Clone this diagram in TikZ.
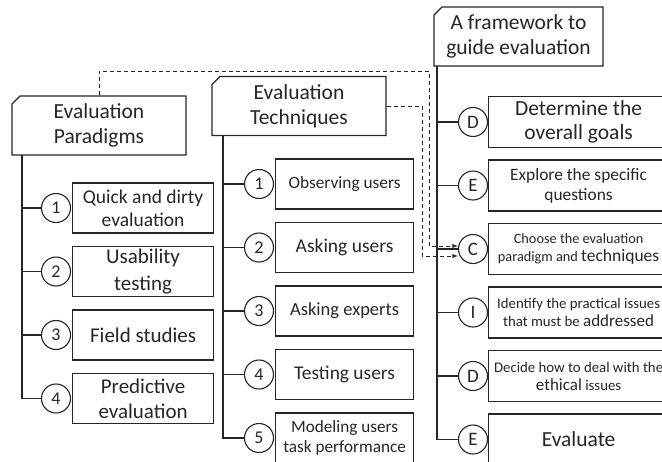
\documentclass[tikz,border=0pt]{standalone}
\usepackage{fontspec}
\setmainfont{Carlito}
\usetikzlibrary{positioning,shapes.misc}

\newcommand{\fs}[2]{\fontsize{#1}{#2}\selectfont}

\begin{document}
\begin{tikzpicture}[x=1pt, y=-1pt, >=latex, node distance=63.5pt, line width=1.1pt, color=black!85,
  head/.style = {draw, chamfered rectangle, chamfered rectangle corners=north west, chamfered rectangle xsep=4pt, chamfered rectangle ysep=4pt, minimum width=174pt, minimum height=59pt, align=center, inner sep=0pt, font=\fs{21.5}{25}},
  num/.style = {draw, circle, fill=white, minimum size=29pt, inner sep=0pt, font=\fs{18}{18}},
  pbox/.style = {draw, rectangle, minimum width=141pt, minimum height=50pt, align=center, inner sep=0pt, font=\fs{21}{25}},
  tbox/.style = {draw, rectangle, minimum width=138pt, minimum height=50pt, align=center, inner sep=0pt, font=\fs{18.5}{20}},
  fbox/.style = {draw, rectangle, minimum width=180pt, minimum height=51pt, align=center, inner sep=0pt, font=\fs{14.8}{18}},
  link/.style = {->, dash pattern=on 4pt off 3pt, line width=0.9pt}]
\useasboundingbox (0,0) rectangle (662,461);
\clip (0,0) rectangle (662,461);

% headers
\node[head] (parhead) at (99,125.5) {Evaluation\\Paradigms};
\node[head] (techhead) at (299,106) {Evaluation\\Techniques};
\node[head, minimum width=169pt] (frmhead) at (518.5,36.5) {A framework to\\guide evaluation};

% evaluation paradigms
\node[num] (p1) at (56,208) {1};
\node[num] (p2) [below of=p1] {2};
\node[num] (p3) [below of=p2] {3};
\node[num] (p4) [below of=p3] {4};
\node[pbox, right=1pt of p1, font=\fs{19.5}{23}] (p1b) {Quick and dirty\\evaluation};
\node[pbox, right=1pt of p2, font=\fs{21}{27}] (p2b) {Usability\\testing};
\node[pbox, right=1pt of p3] (p3b) {Field studies};
\node[pbox, right=1pt of p4] (p4b) {Predictive\\evaluation};

% evaluation techniques
\node[num] (t1) at (259,184) {1};
\node[num] (t2) [below of=t1] {2};
\node[num] (t3) [below of=t2] {3};
\node[num] (t4) [below of=t3] {4};
\node[num] (t5) [below of=t4] {5};
\node[tbox, right=1pt of t1, font=\fs{17.3}{20}] (t1b) {Observing users};
\node[tbox, right=1pt of t2, font=\fs{19.5}{20}] (t2b) {Asking users};
\node[tbox, right=1pt of t3] (t3b) {Asking experts};
\node[tbox, right=1pt of t4, font=\fs{19.4}{20}] (t4b) {Testing users};
\node[tbox, right=1pt of t5, font=\fs{17.2}{20}] (t5b) {Modeling users\\task performance};

% framework steps
\node[num, font=\fs{19}{19}] (f1) at (473,122) {D};
\node[num, font=\fs{19}{19}] (f2) [below of=f1] {E};
\node[num, font=\fs{19}{19}] (f3) [below of=f2] {C};
\node[num, font=\fs{19}{19}] (f4) [below of=f3] {I};
\node[num, font=\fs{19}{19}] (f5) [below of=f4] {D};
\node[num, font=\fs{19}{19}] (f6) [below of=f5] {E};
\node[fbox, right=0pt of f1, font=\fs{21.5}{24}] (f1b) {Determine the\\overall goals};
\node[fbox, right=0pt of f2, font=\fs{17.4}{20}] (f2b) {Explore the specific\\questions};
\node[fbox, right=0pt of f3, font=\fs{14.3}{18}] (f3b) {Choose the evaluation\\paradigm and {\fs{17.5}{17.5}techniques}};
\node[fbox, right=0pt of f4] (f4b) {Identify the practical issues\\that must be {\fs{17}{17}addressed}};
\node[fbox, right=0pt of f5] (f5b) {Decide how to deal with the\\{\fs{17}{17}ethical} issues};
\node[fbox, right=0pt of f6, font=\fs{21.5}{24}] (f6b) {Evaluate};

% trunks
\coordinate (ptop) at (22,155);
\coordinate (ttop) at (223,135.5);
\coordinate (ftop) at (437,66);
\draw (ptop) |- (p4.west);
\draw (p1.west) -- (p1.west -| ptop);
\draw (p2.west) -- (p2.west -| ptop);
\draw (p3.west) -- (p3.west -| ptop);
\draw (ttop) |- (t5.west);
\draw (t1.west) -- (t1.west -| ttop);
\draw (t2.west) -- (t2.west -| ttop);
\draw (t3.west) -- (t3.west -| ttop);
\draw (t4.west) -- (t4.west -| ttop);
\draw (ftop) |- (f6.west);
\draw (f1.west) -- (f1.west -| ftop);
\draw (f2.west) -- (f2.west -| ftop);
\draw (f3.west) -- (f3.west -| ftop);
\draw (f4.west) -- (f4.west -| ftop);
\draw (f5.west) -- (f5.west -| ftop);

% dashed links into the framework
\coordinate (pturn) at (429,71);
\coordinate (tturn) at (422,256);
\draw[link] (parhead.north) |- (pturn) |- ([yshift=3pt]f3.west);
\draw[link] (techhead.east) -| (tturn) -- ([yshift=-7pt]f3.west);
\end{tikzpicture}
\end{document}
